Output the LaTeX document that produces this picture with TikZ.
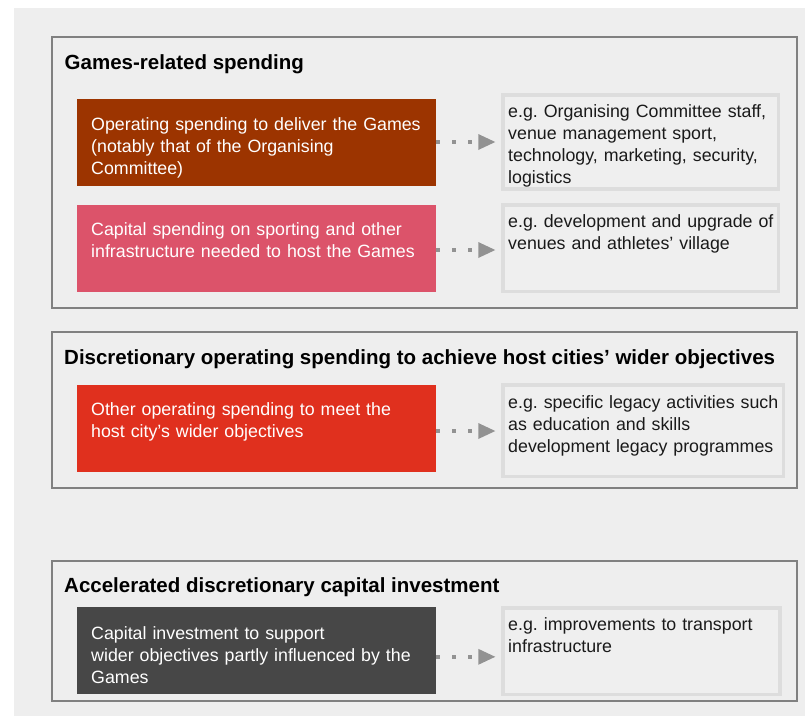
\documentclass[tikz,border=0pt]{standalone}
\usepackage{fontspec}
\setmainfont{Liberation Sans}
\usetikzlibrary{arrows.meta,calc}
\frenchspacing
\definecolor{bgc}{HTML}{EEEEEE}
\definecolor{framec}{HTML}{808080}
\definecolor{exfill}{HTML}{EFEFEF}
\definecolor{exline}{HTML}{DDDDDD}
\definecolor{brownc}{HTML}{9C3400}
\definecolor{rosec}{HTML}{DC536A}
\definecolor{redc}{HTML}{E0301E}
\definecolor{darkc}{HTML}{474747}
\definecolor{arrowc}{HTML}{929292}
\definecolor{txtc}{HTML}{1A1A1A}
\tikzset{
  group/.style={draw=framec, line width=2pt, fill=bgc, inner sep=0pt, minimum width=745pt},
  grouptitle/.style={anchor=base west, inner sep=0pt, font=\fontsize{20.5}{24}\selectfont\bfseries, text=black},
  catbox/.style={inner sep=0pt, minimum width=359pt, fill=#1},
  cattext/.style={anchor=base west, inner sep=0pt, text width=345pt, align=left, text=white, font=\fontsize{17.8}{22}\selectfont},
  exbox/.style={draw=exline, fill=exfill, line width=3.5pt, inner sep=0pt},
  extext/.style={anchor=base west, inner sep=0pt, text width=300pt, align=left, text=txtc, font=\fontsize{17.8}{22}\selectfont},
  conn/.style={draw=arrowc, line width=4pt, dash pattern=on 4pt off 12pt,
    -{Triangle[length=17pt, width=16pt, line width=0pt, fill=arrowc]}}
}
\begin{document}
\begin{tikzpicture}[x=1pt, y=-1pt]
\useasboundingbox (0,0) rectangle (805,716);
\fill[bgc] (14,8) rectangle (805,716);

% group frames
\node[group, minimum height=271pt] (g1) at (424,172) {};
\node[group, minimum height=156pt] (g2) at (424,409.5) {};
\node[group, minimum height=140.5pt] (g3) at (424,630.75) {};

% titles
\node[grouptitle] (t1) at (64.5,69) {Games-related spending};
\node[grouptitle] (t2) at (64,364.5) {Discretionary operating spending to achieve host cities’ wider objectives};
\node[grouptitle] (t3) at (64,592.5) {Accelerated discretionary capital investment};

% category boxes
\node[catbox=brownc, minimum height=87pt] (a) at (256.5,142.5) {};
\node[catbox=rosec, minimum height=86.5pt] (b) at (256.5,248.3) {};
\node[catbox=redc, minimum height=86.5pt] (c) at (256.5,428.3) {};
\node[catbox=darkc, minimum height=87.3pt] (d) at (256.5,650.3) {};

\node[cattext] (at) at (91,130.3) {Operating spending to deliver the Games\\(notably that of the Organising\\Committee)};
\node[cattext] (bt) at (91,235.5) {Capital spending on sporting and other\\infrastructure needed to host the Games};
\node[cattext] (ct) at (91,415.5) {Other operating spending to meet the\\host city’s wider objectives};
\node[cattext] (dt) at (91,639.5) {Capital investment to support\\wider objectives partly influenced by the\\Games};

% example boxes
\node[exbox, minimum width=275.5pt, minimum height=94pt] (ea) at (640.5,141.75) {};
\node[exbox, minimum width=275.5pt, minimum height=86.5pt] (eb) at (640.5,248) {};
\node[exbox, minimum width=280.5pt, minimum height=91.5pt] (ec) at (643,430.5) {};
\node[exbox, minimum width=277pt, minimum height=86.5pt] (ed) at (641.25,651) {};

\node[extext] (eat) at (508,117) {e.g. Organising Committee staff,\\venue management sport,\\technology, marketing, security,\\logistics};
\node[extext] (ebt) at (508,227) {e.g. development and upgrade of\\venues and athletes’ village};
\node[extext] (ect) at (508,408.3) {e.g. specific legacy activities such\\as education and skills\\development legacy programmes};
\node[extext] (edt) at (508,630.7) {e.g. improvements to transport\\infrastructure};

% connectors
\draw[conn] ($(a.east)+(0,-0.5)$) -- ($(a.east -| ea.west)+(-5.75,-0.5)$);
\draw[conn] ($(b.east)+(0,1.7)$) -- ($(b.east -| eb.west)+(-5.75,1.7)$);
\draw[conn] ($(c.east)+(0,2.7)$) -- ($(c.east -| ec.west)+(-5.75,2.7)$);
\draw[conn] ($(d.east)+(0,6.5)$) -- ($(d.east -| ed.west)+(-5.75,6.5)$);
\end{tikzpicture}
\end{document}
